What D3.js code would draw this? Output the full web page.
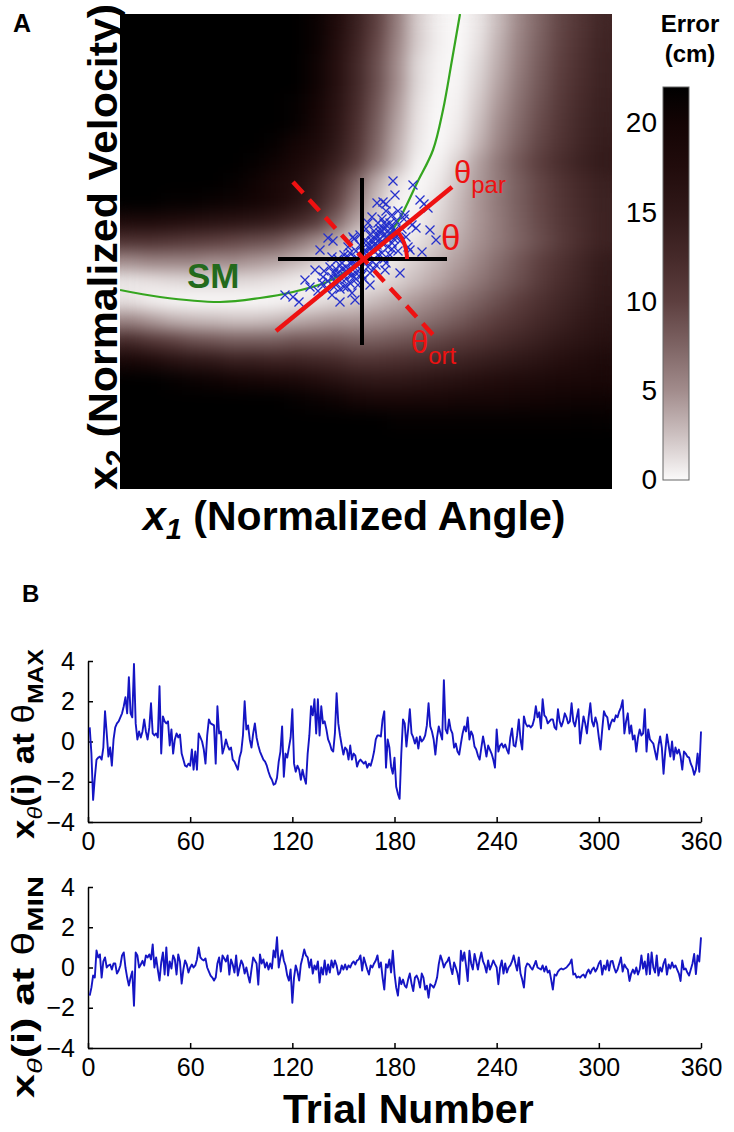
<!DOCTYPE html>
<html><head><meta charset="utf-8">
<script src="https://cdn.jsdelivr.net/npm/d3@7"></script>
<style>
body{margin:0;background:#fff;}
svg{display:block;font-family:"Liberation Sans",Arial,Helvetica,sans-serif;}
</style></head><body>
<svg id="fig" width="734" height="1132"></svg>
<script>
// ---------------- Panel A data ----------------
const x1Domain = [-2.42, 2.50];   // normalized angle
const x2Domain = [-2.30, 2.45];   // normalized velocity
// error (cm) grid, rows from top (high x2) to bottom, columns left to right
const errorGrid = [
 [22,22,22,22,22,22,22,22,22,21,18,14,10,6,2,0.5,0,0.9,2.9,5.4,7.5,9.6,11.3,13],
 [22,22,22,22,22,22,22,22,22,21,17.5,13.5,9.5,5.5,2,0.5,0,1.1,3.3,5.7,7.8,9.8,11.5,13.2],
 [22,22,22,22,22,22,22,22,22,20.5,17,13,9,5,1.5,0.3,0.1,1.5,3.6,6,8.1,10,11.8,13.4],
 [22,22,22,22,22,22,22,22,22,20.5,17,13,9,5,1.5,0.2,0.2,1.8,4,6.4,8.4,10.3,12,13.6],
 [22,22,22,22,22,22,22,22,21.5,20,16.5,12.5,8.5,4.5,1.2,0.1,0.4,2.2,4.5,6.8,8.8,10.7,12.4,13.8],
 [22,22,22,22,22,22,22,22,21.5,19.5,16,12,8,4,1,0,0.6,2.6,5,7.2,9.2,11,12.7,14],
 [22,22,22,22,22,22,22,21.5,20,18.5,15.5,11.5,7.5,3.5,0.8,0,1,3.1,5.5,7.7,9.6,11.4,13,14.3],
 [22,22,22,22,22,22,21.5,20.5,19,17,14,10.5,6.5,3,0.3,0.3,1.8,4.1,6.4,8.5,10.3,12.1,13.6,14.7],
 [22,22,22,22,22,21.5,20.5,19,17.5,15,11.5,7.5,3.5,1,0,0.7,2.4,4.4,6.2,8,9.6,11.2,12.6,13.8],
 [22,22,21.5,21.5,21,20.5,20,19,17,14,10,6,2.5,0.3,0.3,1.2,2.8,4.6,6.3,8,9.5,11,12.4,13.6],
 [18,18,17.5,17,16.5,16,15.5,14.5,13,11,7.5,4,1.5,0.2,0.4,1.6,3,4.6,6.2,7.8,9.3,10.8,12.2,13.5],
 [11.5,11.5,11,10.5,10,9.5,9,8.5,7,5,3.5,1.3,0.2,0.3,1,2.2,3.5,4.8,6.2,7.6,9,10.5,12,13.5],
 [5,5.5,5.5,5.5,5,5,4.5,4,3,2,1,0.1,0.3,1,2,3,4.2,5.5,7,8.5,10,11.5,13,14.5],
 [0.8,1,1.3,1.5,1.5,1.5,1.3,1,0.6,0.2,0,0.4,1,1.8,2.8,3.8,5,6.3,7.7,9,10.5,12,13.3,14.8],
 [1,0.4,0.1,0,0,0,0,0.1,0.4,0.9,1.5,2,2.8,3.6,4.5,5.5,6.6,7.8,9,10.3,11.6,12.8,14,15.2],
 [5.5,4.5,3.5,3,2.8,2.5,2.5,2.8,3.5,4,4.5,4.5,5,5.6,6.3,7.2,8.2,9.3,10.4,11.5,12.6,13.7,14.8,15.8],
 [12.5,11,10,9,8.5,8,8,8,8.5,8.5,8.5,8,8,8.5,9,9.6,10.4,11.3,12.2,13.1,14,15,15.9,16.7],
 [19,18,16.5,15.5,15,14,14,13.5,13.5,13,12.5,11.5,11.5,11.8,12.2,12.7,13.3,14,14.6,15.3,16,16.8,17.5,18.2],
 [22,22,21.5,21,20.5,20,19.5,19,18.5,17.5,16.5,15.5,15,15,15.5,16,16.5,17,17.5,17.8,18.2,18.6,18.8,19],
 [22,22,22,22,22,22,22,22,21.5,21,20.5,19.5,19,19,19,19,19.5,19.5,19.5,19.8,20,20.2,20.3,20.4],
 [22,22,22,22,22,22,22,22,22,22,22,22,22,21.5,21.5,21.5,21.5,21.5,21.5,21.5,21.5,21.5,21.6,21.5],
 [22,22,22,22,22,22,22,22,22,22,22,22,22,22,22,22,22,22,22,22,22,22,22,22],
 [22,22,22,22,22,22,22,22,22,22,22,22,22,22,22,22,22,22,22,22,22,22,22,22],
 [22,22,22,22,22,22,22,22,22,22,22,22,22,22,22,22,22,22,22,22,22,22,22,22]
];
const errorStops  = [0, 2.5, 5, 7.5, 10, 12.5, 15, 17.5, 20, 22];
const errorColors = ["#fbfafa","#cdc1c1","#a28c8c","#7e6464","#5d3f3f","#452929","#301818","#210c0c","#130404","#000000"];
const colorbarTicks = [0, 5, 10, 15, 20];
const colorbarMax = 22;
// solution manifold (SM)
const smCurve = [[-2.42,-0.31],[-2.02,-0.38],[-1.42,-0.43],[-1.02,-0.39],[-0.69,-0.33],[-0.35,-0.23],[-0.17,-0.13],[0,-0.01],[0.23,0.19],[0.38,0.41],[0.55,0.76],[0.71,1.09],[0.81,1.49],[0.90,1.99],[0.98,2.45]];
// trial executions
const trialCloud = [
 [0.31,0.78],[0.51,0.74],[0.21,0.57],[0.24,0.55],[0.58,0.59],[0.62,0.55],[0.66,0.51],[0.50,0.34],[0.54,0.31],[0.60,0.07],[0.48,0.09],[0.38,-0.14],[-0.34,0.21],[-0.29,0.18],[-0.42,0.09],[-0.30,0.02],[-0.69,-0.38],[-0.63,-0.43],[-0.52,-0.28],[-0.22,-0.43],[-0.15,-0.28],[-0.39,-0.18],[-0.09,0.22],[0.15,0.56],[0.33,0.64],[0.43,0.44],[0.68,0.29],[0.74,0.19],[0.23,-0.11],[0.08,-0.26],[-0.07,-0.41],[-0.47,-0.11],[-0.57,-0.21],[-0.77,-0.36],
 [0,0],[0.05,0.03],[-0.04,-0.02],[0.08,0.10],[0.12,0.08],[0.15,0.14],[0.18,0.20],[0.20,0.16],[0.24,0.22],[0.10,0.18],[0.06,0.12],[-0.06,-0.06],[-0.10,-0.04],[-0.12,-0.12],[-0.16,-0.08],[-0.18,-0.16],[-0.20,-0.20],[-0.24,-0.14],[-0.08,-0.18],[-0.02,-0.10],[0.02,0.06],[0.14,0.24],[0.22,0.30],[0.26,0.28],[0.28,0.36],[0.30,0.32],[0.18,0.30],[0.12,0.28],[0.08,0.24],[0.04,0.18],[-0.02,0.14],[-0.06,0.08],[-0.14,0.02],[-0.22,-0.06],[-0.26,-0.24],[-0.30,-0.18],[-0.28,-0.28],[-0.34,-0.22],[-0.12,-0.24],[-0.04,-0.26],[0,-0.16],[0.06,-0.08],[0.10,-0.02],[0.16,0.04],[0.20,0.06],[0.26,0.12],[0.32,0.20],[0.36,0.26],[0.34,0.38],[0.40,0.30],[0.38,0.18],[0.42,0.40],[0.30,0.44],[0.20,0.40],[0.16,0.36],[0.04,0.30],[-0.02,0.24],[-0.08,0.20],[-0.14,0.12],[-0.18,0.04],[-0.20,-0.04],[-0.26,-0.10],[-0.32,-0.08],[-0.36,-0.30],[-0.40,-0.24],[-0.44,-0.32],[-0.18,-0.28],[-0.10,-0.34],[0.02,-0.20],[0.08,-0.14],[0.14,-0.06],[0.22,0],[0.28,0.04],[0.30,0.10],[0.44,0.22],[0.46,0.12],[0.36,0.08],[0.24,-0.04],[0.12,-0.10],[-0.06,-0.14],[-0.16,-0.20],[-0.22,-0.30],[-0.30,-0.36],[-0.24,0],[-0.12,0.06],[0.06,0.36],[0.10,0.42],[0.24,0.48],[0.36,0.48],[-0.38,-0.12],
 [0.12,0.14],[0.16,0.18],[0.22,0.24],[0.18,0.26],[0.26,0.20],[0.28,0.26],[0.14,0.20],[0.20,0.28],[0.24,0.34],[0.32,0.28],[0.10,0.12],[0.04,0.08],[-0.04,0],[-0.08,-0.08],[-0.12,-0.04],[-0.14,-0.14],[-0.10,-0.16],[-0.16,-0.12],[-0.20,-0.10],[-0.06,-0.20],[0.02,-0.02],[0.08,0.04],[-0.02,0.04],[0.06,0.16],[0.16,0.10],[0.30,0.16],[0.34,0.24],[0.22,0.36],[-0.24,-0.20],[-0.28,-0.14]
];
const crossH = [[-0.84,0],[0.85,0]];
const crossV = [[0,0.81],[0,-0.86]];
const thetaParLine = [[-0.86,-0.72],[0.90,0.72]];
const thetaOrtLine = [[-0.69,0.77],[0.73,-0.78]];
const thetaArcRadius = 0.45;

// ---------------- Panel B data ----------------
const trialTicks = [0, 60, 120, 180, 240, 300, 360];
const valueTicks = [-4, -2, 0, 2, 4];
const thetaMaxSeries = [
 0.7,-0.6,-2.9,-1.8,-0.9,-0.8,-0.75,-0.9,-0.3,1.5,
 0.4,-0.75,-0.3,-1.2,0.1,0.7,0.9,1.0,1.2,1.4,
 1.75,2.2,1.4,3.2,1.4,1.2,3.85,0.9,0.1,0.5,
 0.2,0.5,1.1,0.5,0.1,0.7,1.9,0.4,0.3,0.4,
 0.2,2.75,-0.6,1.25,1.0,0.9,1.0,-0.2,0.6,-0.6,
 0.1,0.4,0.2,0.35,-0.6,-0.9,-1.2,-1.25,-1.1,-1.2,
 -0.4,-1.4,-0.5,-1.4,0.4,0.2,0.0,-0.4,-1.1,0.3,
 1.1,0.9,0.85,0.8,-1.1,1.75,0.4,0.5,-0.6,-0.3,
 0.1,-0.2,-0.4,-0.3,-0.9,-1.0,-1.2,-1.4,-0.8,-0.5,
 0.3,2.0,0.6,0.8,0.1,-0.3,0.4,0.9,0.2,-0.2,
 -0.5,-0.7,-0.9,-1.0,-1.2,-1.5,-1.75,-1.9,-2.15,-2.1,
 -1.8,-1.0,-0.5,0.75,-1.75,-0.6,-0.8,-0.3,0.2,1.6,
 -1.1,-1.5,-1.2,-1.4,-1.9,-1.4,-1.8,-2.1,-0.6,0.3,
 1.75,1.3,2.1,0.4,2.1,0.3,1.75,0.9,1.0,0.6,
 0.1,-0.1,-0.4,-0.5,0.4,2.4,0.9,0.3,-0.2,-0.65,
 -0.3,-0.4,-0.9,-0.2,-0.9,-0.6,-0.7,-1.25,-1.0,-0.9,
 -1.0,-1.1,-1.0,-1.3,-1.1,-1.2,-0.9,-0.5,0.1,0.3,
 0.3,0.25,1.1,1.5,-1.3,0.1,-0.3,-1.25,-1.6,-0.8,
 -2.25,-2.6,-2.85,-0.6,1.1,0.9,-0.25,0.6,1.6,0.4,
 0.2,-0.1,0.2,-0.35,0.25,0.0,0.1,0.3,0.8,1.9,
 0.75,0.5,0.1,-0.65,0.2,0.75,0.4,0.1,3.05,0.6,
 0.4,1.1,0.6,0.4,-0.3,-0.1,-0.5,-0.65,-0.1,0.4,
 0.75,0.5,1.2,0.1,0.5,0.3,-0.25,-0.4,-0.7,-0.9,
 -0.3,0.25,-0.2,-0.75,-0.2,-0.4,-0.6,-0.9,-1.3,0.6,
 -0.5,-0.2,-0.1,-0.3,-0.15,-0.4,-0.6,0.2,0.65,-0.2,
 -0.25,0.3,1.1,0.1,-0.4,1.25,0.9,0.75,0.8,0.7,
 0.8,1.1,1.75,1.2,1.45,0.65,2.1,1.3,1.2,0.9,
 1.0,1.1,1.1,0.7,0.6,1.6,1.0,0.75,1.0,1.4,
 1.2,0.9,1.0,1.9,1.0,0.75,1.2,1.6,-0.1,0.6,
 1.25,0.9,0.4,1.2,1.9,1.0,0.75,1.2,0.9,0.2,
 -0.4,0.6,1.5,1.3,1.2,0.6,0.9,1.1,1.0,1.3,
 1.2,1.5,1.7,2.05,0.4,1.0,1.4,0.4,0.8,0.1,
 0.3,-0.5,0.2,0.6,0.3,0.4,1.6,-0.5,0.6,0.1,
 0.0,-0.1,-0.5,-0.9,-0.2,0.25,-0.3,-1.6,-0.5,0.35,
 -0.2,-0.75,0.0,-0.9,-0.3,-0.6,-0.4,-0.75,-1.4,-0.5,
 -0.6,-0.75,-0.8,-1.1,-1.3,-1.65,-1.4,-0.6,-1.5,0.5
];
const thetaMinSeries = [
 -1.4,-1.0,-0.4,-0.5,0.85,0.5,0.65,-0.5,0.3,0.5,
 0.0,0.1,0.15,-0.1,0.2,0.2,-0.3,-0.15,0.1,0.6,
 0.75,0.0,-0.5,-0.9,-0.5,-0.2,-1.9,0.75,0.6,0.0,
 0.15,0.33,0.1,0.6,0.5,0.65,0.4,1.15,0.0,0.5,
 -0.1,-0.65,0.25,0.75,-0.35,1.0,-0.4,0.3,-0.05,0.6,
 0.4,-0.35,0.65,0.3,-0.8,-0.1,0.35,0.15,-0.25,0.0,
 0.15,0.0,0.1,0.4,1.0,0.5,0.4,0.35,0.45,0.0,
 -0.2,-0.4,-0.5,-0.65,-0.5,0.2,0.5,-0.2,0.6,0.45,
 0.3,0.6,-0.35,0.4,0.15,-0.25,0.6,-0.4,0.0,0.35,
 0.15,-0.3,0.0,-0.4,-0.75,-0.1,0.5,0.35,0.2,-0.85,
 0.65,0.2,0.4,0.0,0.25,-0.1,0.2,-0.05,0.85,0.5,
 1.5,0.0,0.5,0.85,0.35,0.1,-0.4,-0.65,-0.1,-1.75,
 -0.5,0.1,-0.2,-0.65,0.15,0.5,0.9,0.6,0.5,0.0,
 0.4,-0.3,0.1,-0.1,0.3,-0.75,0.0,-0.35,0.35,-0.35,
 0.15,-0.25,0.35,0.0,0.35,0.1,-0.35,-0.25,0.1,-0.1,
 0.15,-0.1,0.1,0.0,0.2,0.3,0.15,0.35,0.4,0.6,
 -0.15,0.5,0.2,-0.1,-0.35,0.1,0.0,0.2,0.35,0.6,
 0.0,0.25,-0.5,-1.1,0.17,0.0,0.4,-0.25,0.83,-0.3,
 -1.0,-1.4,-0.5,-0.83,-0.6,-0.9,-1.0,-0.6,-0.3,-0.8,
 -1.17,-0.5,-0.4,-0.6,-1.0,-0.3,-0.5,-1.1,-0.9,-1.5,
 -0.83,-0.9,-1.0,-0.8,-0.5,0.17,0.6,0.35,0.0,0.2,
 0.3,0.5,0.0,-0.33,0.25,0.0,-0.3,-0.83,0.83,0.33,
 0.75,0.1,-0.67,0.83,0.2,-0.1,0.67,0.3,-0.1,0.4,
 0.75,0.3,0.1,-0.25,0.35,-0.1,0.1,0.35,0.17,0.0,
 -0.83,0.0,0.35,-0.3,0.2,-0.25,0.0,0.1,0.3,0.6,
 0.2,-0.15,0.5,-0.3,-0.6,-1.0,0.0,0.2,0.15,0.0,
 -0.1,0.1,0.33,0.0,-0.05,-0.1,0.1,-0.2,0.05,-0.25,
 -0.15,-0.6,-1.1,-0.35,-0.4,-0.2,-0.1,-0.05,-0.1,-0.05,
 0.0,0.1,0.2,0.4,-0.35,-0.3,-0.5,-0.45,-0.5,-0.4,
 -0.35,-0.5,-0.25,-0.1,-0.3,-0.1,0.0,-0.2,-0.05,0.2,
 0.33,-0.35,0.1,-0.1,0.35,-0.15,0.3,0.33,0.0,-0.25,
 -0.1,0.2,0.5,-0.2,0.15,0.0,-0.1,-0.67,-0.3,-0.1,
 -0.3,0.0,-0.35,-0.1,0.6,-0.05,0.3,-0.35,0.67,-0.33,
 0.75,0.0,-0.25,0.6,-0.4,0.0,-0.2,0.2,0.42,-0.35,
 0.15,-0.05,0.25,0.0,0.1,-0.1,-0.3,-0.67,0.35,-0.1,
 -0.05,-0.25,-0.4,-0.1,0.2,0.67,-0.33,0.6,0.3,1.5
];
const trials = d3.range(1, thetaMaxSeries.length + 1);

// ---------------- drawing ----------------
const svg = d3.select('#fig');
const defs = svg.append('defs');
const FONT = '"Liberation Sans", Arial, Helvetica, sans-serif';

const xA = d3.scaleLinear().domain(x1Domain).range([120, 612]);
const yA = d3.scaleLinear().domain(x2Domain).range([489, 14]);
const errColor = d3.scaleLinear().domain(errorStops).range(errorColors).clamp(true);

// clip + smoothing filter
defs.append('clipPath').attr('id','hmClip').append('rect')
  .attr('x', xA(x1Domain[0])).attr('y', yA(x2Domain[1]))
  .attr('width', xA(x1Domain[1]) - xA(x1Domain[0])).attr('height', yA(x2Domain[0]) - yA(x2Domain[1]));
const filt = defs.append('filter').attr('id','smooth').attr('filterUnits','userSpaceOnUse')
  .attr('x', xA(x1Domain[0])).attr('y', yA(x2Domain[1]))
  .attr('width', xA(x1Domain[1]) - xA(x1Domain[0])).attr('height', yA(x2Domain[0]) - yA(x2Domain[1]))
  .attr('color-interpolation-filters','sRGB');
filt.append('feGaussianBlur').attr('stdDeviation', 8).attr('edgeMode','duplicate');
filt.append('feComponentTransfer').append('feFuncA').attr('type','table').attr('tableValues','1 1');

const nRows = errorGrid.length, nCols = errorGrid[0].length;
const colBand = d3.scaleBand().domain(d3.range(nCols)).range([xA(x1Domain[0]), xA(x1Domain[1])]);
const rowBand = d3.scaleBand().domain(d3.range(nRows)).range([yA(x2Domain[1]), yA(x2Domain[0])]);
const cells = [];
errorGrid.forEach((row, r) => row.forEach((v, c) => cells.push({r, c, v})));

const hmOuter = svg.append('g').attr('clip-path','url(#hmClip)');
hmOuter.append('rect').attr('x', 120).attr('y', 14).attr('width', 492).attr('height', 475).attr('fill', '#000');
hmOuter.append('g').attr('filter','url(#smooth)')
  .selectAll('rect').data(cells).join('rect')
  .attr('x', d => colBand(d.c)).attr('y', d => rowBand(d.r))
  .attr('width', colBand.bandwidth() + 0.8).attr('height', rowBand.bandwidth() + 0.8)
  .attr('fill', d => errColor(d.v));

const plotA = svg.append('g').attr('clip-path','url(#hmClip)');
// SM curve
plotA.append('path').datum(smCurve)
  .attr('d', d3.line().x(d => xA(d[0])).y(d => yA(d[1])).curve(d3.curveCatmullRom))
  .attr('fill','none').attr('stroke','#35a51f').attr('stroke-width', 2.2);
// trials
plotA.append('g').selectAll('path').data(trialCloud).join('path')
  .attr('transform', d => `translate(${xA(d[0])},${yA(d[1])})`)
  .attr('d','M-4.5,-4.5L4.5,4.5M-4.5,4.5L4.5,-4.5')
  .attr('stroke','#2530cc').attr('stroke-width',1.25).attr('fill','none');
// crosshair
const seg = d3.line().x(d => xA(d[0])).y(d => yA(d[1]));
[crossH, crossV].forEach(s => plotA.append('path').datum(s).attr('d', seg)
  .attr('stroke','#000').attr('stroke-width',4).attr('fill','none'));
// theta lines
plotA.append('path').datum(thetaParLine).attr('d', seg)
  .attr('stroke','#ee1111').attr('stroke-width',4.5).attr('fill','none');
plotA.append('path').datum(thetaOrtLine).attr('d', seg)
  .attr('stroke','#ee1111').attr('stroke-width',4.5).attr('fill','none')
  .attr('stroke-dasharray','15,9');
// theta arc
{
  const cx = xA(0), cy = yA(0);
  const r = xA(thetaArcRadius) - xA(0);
  const ang = Math.atan2(-(yA(thetaParLine[1][1]) - yA(thetaParLine[0][1])), xA(thetaParLine[1][0]) - xA(thetaParLine[0][0]));
  const p = d3.path();
  p.arc(cx, cy, r, -ang, 0, false);
  plotA.append('path').attr('d', p.toString()).attr('stroke','#ee1111').attr('stroke-width',4).attr('fill','none');
}
// labels inside panel A
const red = '#ee1111';
function thetaLabel(x, y, sub, size, subSize, dy) {
  const t = svg.append('text').attr('x', x).attr('y', y).attr('fill', red).attr('font-family', FONT).attr('font-size', size);
  t.append('tspan').text('θ');
  if (sub) t.append('tspan').attr('font-size', subSize).attr('dy', dy).text(sub);
}
thetaLabel(454, 183, 'par', 31, 24, 10);
thetaLabel(441, 250, null, 35);
thetaLabel(411, 353, 'ort', 31, 24, 11);
svg.append('text').attr('x', 187).attr('y', 288).attr('fill','#236a1c')
  .attr('font-family', FONT).attr('font-size', 35).attr('font-weight','bold').text('SM');

// axis titles panel A
{
  const t = svg.append('text').attr('x', 143).attr('y', 530).attr('font-family', FONT)
    .attr('font-size', 41).attr('font-weight','bold');
  t.append('tspan').attr('font-style','italic').text('x');
  t.append('tspan').attr('font-style','italic').attr('font-size', 29).attr('dy', 9).text('1');
  t.append('tspan').attr('dy', -9).text(' (Normalized Angle)');
}
{
  const t = svg.append('text').attr('transform','translate(117,247) rotate(-90)')
    .attr('text-anchor','middle').attr('font-family', FONT)
    .attr('font-size', 41).attr('font-weight','bold')
    .attr('textLength', 486).attr('lengthAdjust','spacingAndGlyphs');
  t.append('tspan').text('x');
  t.append('tspan').attr('font-size', 29).attr('dy', 9).text('2');
  t.append('tspan').attr('dy', -9).text(' (Normalized Velocity)');
}
svg.append('text').attr('x', 13).attr('y', 32).attr('font-family', FONT).attr('font-size', 25).attr('font-weight','bold').text('A');

// colorbar
const cbY = d3.scaleLinear().domain([0, colorbarMax]).range([480, 87]);
const grad = defs.append('linearGradient').attr('id','cbGrad').attr('x1',0).attr('y1',1).attr('x2',0).attr('y2',0);
errorStops.forEach((s, i) => grad.append('stop').attr('offset', s / colorbarMax).attr('stop-color', errorColors[i]));
svg.append('rect').attr('x', 663).attr('y', cbY(colorbarMax)).attr('width', 26)
  .attr('height', cbY(0) - cbY(colorbarMax)).attr('fill','url(#cbGrad)').attr('stroke','#666').attr('stroke-width',1);
const cbAxis = svg.append('g').attr('transform','translate(663,0)')
  .call(d3.axisLeft(cbY).tickValues(colorbarTicks).tickSize(0).tickPadding(6));
cbAxis.select('.domain').remove();
cbAxis.attr('font-family', FONT).attr('font-size', 28);
cbAxis.selectAll('text').attr('fill','#000');
svg.append('text').attr('x', 690).attr('y', 32).attr('text-anchor','middle').attr('font-family', FONT)
  .attr('font-size', 24).attr('font-weight','bold').text('Error');
svg.append('text').attr('x', 690).attr('y', 62).attr('text-anchor','middle').attr('font-family', FONT)
  .attr('font-size', 24).attr('font-weight','bold').text('(cm)');

// ---------------- Panel B ----------------
svg.append('text').attr('x', 22).attr('y', 602).attr('font-family', FONT).attr('font-size', 24).attr('font-weight','bold').text('B');
const xB = d3.scaleLinear().domain([0, 360]).range([88, 701]);

function timeSeries(values, yRange, subLabel, labelCY, labelLen) {
  const yB = d3.scaleLinear().domain([-4, 4]).range(yRange);
  const g = svg.append('g');
  const xAxis = g.append('g').attr('transform', `translate(0,${yB(-4)})`)
    .call(d3.axisBottom(xB).tickValues(trialTicks).tickSize(-5).tickSizeOuter(0).tickPadding(10));
  const yAxis = g.append('g').attr('transform', `translate(${xB(0)},0)`)
    .call(d3.axisLeft(yB).tickValues(valueTicks).tickSize(-5).tickSizeOuter(0).tickPadding(13));
  [xAxis, yAxis].forEach(a => {
    a.attr('font-family', FONT).attr('font-size', 25);
    a.selectAll('path,line').attr('stroke','#000').attr('stroke-width',1.5);
    a.selectAll('text').attr('fill','#000');
  });
  g.append('path').datum(values)
    .attr('d', d3.line().x((d, i) => xB(trials[i])).y(d => yB(d)))
    .attr('fill','none').attr('stroke','#1515c4').attr('stroke-width',1.9).attr('stroke-linejoin','round');
  const t = svg.append('text').attr('transform', `translate(34,${labelCY}) rotate(-90)`)
    .attr('text-anchor','middle').attr('font-family', FONT).attr('font-size', 31).attr('font-weight','bold')
    .attr('textLength', labelLen).attr('lengthAdjust','spacingAndGlyphs');
  t.append('tspan').text('x');
  t.append('tspan').attr('font-size', 21).attr('font-style','italic').attr('font-weight','normal').attr('dy', 8).text('θ');
  t.append('tspan').attr('dy', -8).text('(i) at ');
  t.append('tspan').attr('font-weight','normal').text('θ');
  t.append('tspan').attr('font-size', 22).attr('dy', 9).text(subLabel);
}
timeSeries(thetaMaxSeries, [822, 661], 'MAX', 744, 190);
timeSeries(thetaMinSeries, [1048, 887], 'MIN', 987, 222);

svg.append('text').attr('x', 283).attr('y', 1123).attr('font-family', FONT)
  .attr('font-size', 41).attr('font-weight','bold').text('Trial Number');
</script>
</body></html>
